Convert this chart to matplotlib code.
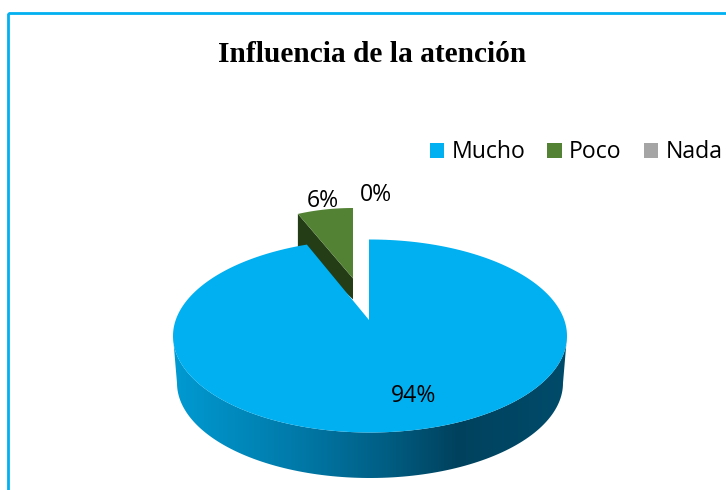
import matplotlib
matplotlib.use('Agg')
import matplotlib.pyplot as plt
from matplotlib.colors import LinearSegmentedColormap
from matplotlib.patches import Patch, Polygon, Rectangle
import numpy as np

categories = ['Mucho', 'Poco', 'Nada']
values = [94, 6, 0]
colors = ['#00B0F0', '#548235', '#A5A5A5']
title = 'Influencia de la atención'

# pie geometry in image pixels
cx, cy, rx, ry = 370, 336, 197, 96.5
tip_x, tip_y = 369, 320
low_cx, low_cy, low_rx, low_ry = 370, 383, 193, 95
view_shift = np.radians(2.9)  # perspective makes the cut look narrower

def rim(theta):
    return cx + rx * np.cos(theta), cy - ry * np.sin(theta)

fig, ax = plt.subplots(figsize=(7.26, 4.9), dpi=100)
fig.subplots_adjust(0, 0, 1, 1)
ax.set_xlim(0, 726)
ax.set_ylim(490, 0)
ax.axis('off')

ax.add_patch(Rectangle((8, 13), 730, 490, fill=False, ec='#00B0F0', lw=2))

# angles go clockwise from the top, as in the original
total = sum(values)
edges = np.pi / 2 - 2 * np.pi * np.cumsum([0] + values) / total

# Poco is pulled out and shrunk a bit since it sits at the back
a0, a1 = edges[2], edges[1]
t = np.linspace(a0, a1, 30)
px, py = rim(t)
top_x, top_y = rim(a0)
right_x, right_y = 353, 208
poco_x = right_x + (px - top_x) * 0.76
poco_y = right_y + (py - top_y) * 0.875
tip = (right_x, right_y + (tip_y - top_y) * 0.875)
ax.fill([poco_x[-1], tip[0], tip[0], poco_x[-1]],
        [poco_y[-1], tip[1], tip[1] + 21, poco_y[-1] + 33],
        color='#243D17', lw=0, zorder=2)
ax.fill(np.r_[tip[0], poco_x], np.r_[tip[1], poco_y], color=colors[1], lw=0, zorder=3)

# side wall of the big slice, shaded left to right
t = np.linspace(np.pi, 2 * np.pi, 120)
ux, uy = rim(t)
lx = low_cx + low_rx * np.cos(t)
ly = low_cy - low_ry * np.sin(t)
wall = Polygon(np.c_[np.r_[ux, lx[::-1]], np.r_[uy, ly[::-1]]], fc='none', ec='none')
ax.add_patch(wall)
stops = [(0, '#009AD2'), (125 / 394, '#0079A8'), (210 / 394, '#005F85'),
         (284 / 394, '#00425E'), (1, '#004B6A')]
cmap = LinearSegmentedColormap.from_list('wall', stops)
im = ax.imshow(np.linspace(0, 1, 400)[None, :], cmap=cmap, aspect='auto',
               extent=(173, 567, 490, 330), zorder=4)
im.set_clip_path(wall)
ax.set_xlim(0, 726)
ax.set_ylim(490, 0)

# top face of the big slice
t = np.linspace(edges[0], edges[1] - view_shift, 300)
bx, by = rim(t)
ax.fill(np.r_[tip_x, tip_x, bx[1:]], np.r_[tip_y, by[0], by[1:]], color=colors[0], lw=0, zorder=5)

ax.text(372, 55, title, family='Liberation Serif', weight='bold', fontsize=21.2,
        ha='center', va='center', color='black')

label_pos = [(414, 396), (323, 201), (376, 195)]
for v, (x, y) in zip(values, label_pos):
    ax.text(x, y, f'{v}%', family='Open Sans', fontsize=16.6, ha='center', va='center',
            color='black', zorder=6)

handles = [Patch(fc=c, ec='none') for c in colors]
ax.legend(handles, categories, ncols=3, loc='center right', frameon=False,
          bbox_to_anchor=(0.995, 0.689), prop={'family': 'Open Sans', 'size': 16.6},
          handlelength=0.63, handleheight=0.63, handletextpad=0.3, columnspacing=0.97,
          borderpad=0, borderaxespad=0)

fig.savefig('out.png', dpi=100)
